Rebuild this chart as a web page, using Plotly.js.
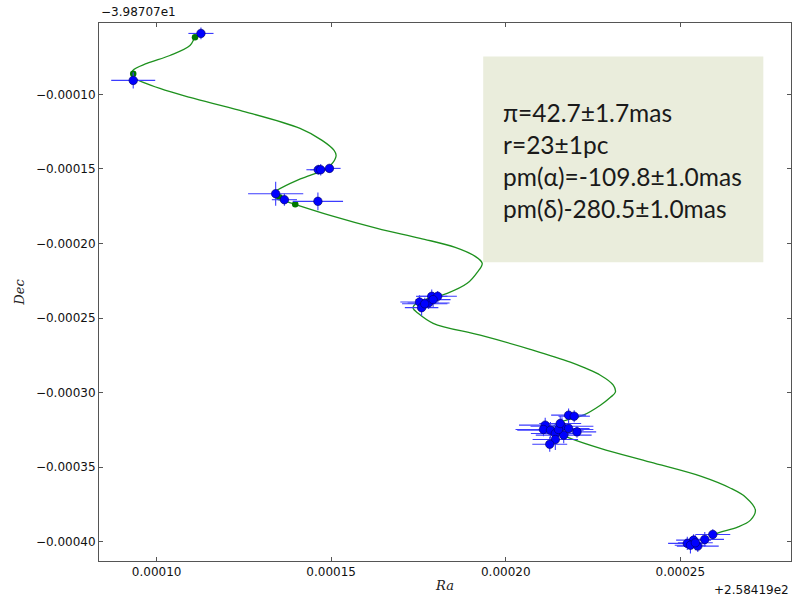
<!DOCTYPE html>
<html>
<head>
<meta charset="utf-8">
<script src="https://cdn.plot.ly/plotly-3.0.1.min.js"></script>
<style>html,body{margin:0;padding:0;background:#fff;}#chart{width:803px;height:597px;}</style>
</head>
<body>
<div id="chart"></div>
<script>
// Observed positions (offset from +2.58419e2 in Ra and -3.98707e1 in Dec)
const obsRa = [0.0001127, 0.0000933,
  0.0001463, 0.0001470, 0.0001495, 0.0001341, 0.0001366, 0.0001462,
  0.0001753, 0.0001759, 0.0001779, 0.0001788, 0.0001805, 0.0001792, 0.0001768,
  0.0002180, 0.0002196, 0.0002161, 0.0002113, 0.0002108, 0.0002128, 0.0002142, 0.0002142,
  0.0002126, 0.0002166, 0.0002180, 0.0002204, 0.0002151, 0.0002156,
  0.0002593, 0.0002570, 0.0002538, 0.0002520, 0.0002529, 0.0002550, 0.0002543];
const obsDec = [-0.0000591, -0.0000906,
  -0.0001505, -0.0001505, -0.0001496, -0.0001666, -0.0001706, -0.0001717,
  -0.0002392, -0.0002430, -0.0002399, -0.0002354, -0.0002354, -0.0002376, -0.0002404,
  -0.0003151, -0.0003158, -0.0003225, -0.0003218, -0.0003247, -0.0003252, -0.0003274, -0.0003314,
  -0.0003346, -0.0003285, -0.0003240, -0.0003263, -0.0003247, -0.0003207,
  -0.0003951, -0.0003984, -0.0003989, -0.0004011, -0.0004023, -0.0004029, -0.0004007];
const errRa = [3.6e-6, 6.3e-6,
  3.4e-6, 3.0e-6, 3.2e-6, 7.9e-6, 3.6e-6, 7.2e-6,
  5.5e-6, 4.8e-6, 6.0e-6, 4.5e-6, 5.5e-6, 5.0e-6, 6.5e-6,
  5.0e-6, 4.5e-6, 9.0e-6, 7.5e-6, 8.0e-6, 9.5e-6, 7.0e-6, 6.5e-6,
  5.0e-6, 8.0e-6, 6.0e-6, 5.5e-6, 10.0e-6, 6.0e-6,
  5.0e-6, 5.5e-6, 5.0e-6, 5.5e-6, 4.5e-6, 6.0e-6, 5.0e-6];
const errDec = [3.9e-6, 5.4e-6,
  3.4e-6, 3.8e-6, 2.8e-6, 8.0e-6, 4.0e-6, 6.0e-6,
  4.5e-6, 5.5e-6, 4.0e-6, 4.5e-6, 3.5e-6, 5.0e-6, 4.0e-6,
  4.5e-6, 4.0e-6, 6.0e-6, 5.0e-6, 4.5e-6, 5.5e-6, 6.0e-6, 7.0e-6,
  5.0e-6, 5.5e-6, 4.5e-6, 4.0e-6, 5.0e-6, 5.0e-6,
  3.5e-6, 5.0e-6, 4.0e-6, 4.5e-6, 5.5e-6, 4.0e-6, 5.0e-6];

// Model positions at epochs (visible ones)
const modelRa = [0.0001110, 0.0000933, 0.0001397, 0.0001352];
const modelDec = [-0.0000616, -0.0000861, -0.0001737, -0.0001690];

// Fitted parallax + proper-motion track
const curveRa = [0.00011213, 0.00011098, 0.00010955, 0.00010381, 0.00009722, 0.00009321, 0.00009292, 0.00009378,
  0.00010095, 0.00010955, 0.00012388, 0.00014108, 0.00014739, 0.00015083, 0.00015141, 0.00015054, 0.00014882,
  0.00014395, 0.00014022, 0.00013449, 0.00013334, 0.00013392, 0.00013535, 0.00013965, 0.00014969, 0.00016316,
  0.00017549, 0.00018552, 0.00019126, 0.00019326, 0.00019183, 0.00018896, 0.00018323, 0.00017635, 0.00017377,
  0.00017348, 0.00017491, 0.00017921, 0.00019269, 0.000207, 0.0002185, 0.0002271, 0.0002308, 0.0002314,
  0.00023, 0.0002271, 0.0002222, 0.0002156, 0.0002136, 0.0002142, 0.0002151, 0.0002185, 0.0002271,
  0.0002414, 0.0002558, 0.0002644, 0.0002687, 0.0002715, 0.0002701, 0.0002664, 0.0002615, 0.0002592];
const curveDec = [-0.0000598, -0.0000618, -0.0000672, -0.0000739, -0.0000792, -0.0000839, -0.0000873, -0.0000893,
  -0.000096, -0.0001020, -0.0001107, -0.0001228, -0.0001308, -0.0001375, -0.0001409, -0.0001456, -0.0001496,
  -0.0001543, -0.0001576, -0.0001643, -0.0001664, -0.000169, -0.0001704, -0.0001737, -0.0001811, -0.0001898,
  -0.0001965, -0.0002025, -0.0002086, -0.0002133, -0.0002193, -0.0002267, -0.0002334, -0.0002381, -0.0002414,
  -0.0002434, -0.0002468, -0.0002535, -0.0002615, -0.0002709, -0.0002796, -0.0002883, -0.000295, -0.0002997,
  -0.0003031, -0.0003084, -0.0003151, -0.0003198, -0.0003232, -0.0003259, -0.0003272, -0.0003306, -0.0003373,
  -0.0003466, -0.000356, -0.0003641, -0.0003701, -0.0003788, -0.0003855, -0.0003902, -0.0003936, -0.0003956];

const fitLines = ["π=42.7±1.7mas", "r=23±1pc", "pm(α)=-109.8±1.0mas", "pm(δ)-280.5±1.0mas"];
const xOffsetLabel = "+2.58419e2";
const yOffsetLabel = "−3.98707e1";

const traces = [
  {x: curveRa, y: curveDec, type: 'scatter', mode: 'lines',
   line: {color: 'rgb(30,145,30)', width: 1.3, shape: 'spline', smoothing: 1}, hoverinfo: 'skip'},
  {x: modelRa, y: modelDec, type: 'scatter', mode: 'markers',
   marker: {color: 'rgb(0,120,0)', size: 6.5}},
  {x: obsRa, y: obsDec, type: 'scatter', mode: 'markers',
   marker: {color: 'rgb(0,0,255)', size: 8.5, line: {color: 'rgb(0,0,90)', width: 0.6}},
   error_x: {type: 'data', array: errRa, visible: true, color: 'rgb(60,60,255)', thickness: 1.1, width: 0},
   error_y: {type: 'data', array: errDec, visible: true, color: 'rgb(60,60,255)', thickness: 1.1, width: 0}}
];

const axisCommon = {
  showgrid: false, zeroline: false, showline: true, linecolor: '#555', linewidth: 1,
  mirror: 'allticks', ticks: 'inside', ticklen: 4, tickcolor: '#555', tickwidth: 1,
  tickfont: {family: 'DejaVu Sans', size: 12, color: '#111'},
  dtick: 0.00005, tick0: 0, tickformat: '.5f', automargin: false
};

const layout = {
  width: 803, height: 597,
  margin: {l: 99, r: 12, t: 23, b: 36},
  paper_bgcolor: '#fff', plot_bgcolor: '#fff',
  showlegend: false,
  xaxis: Object.assign({}, axisCommon, {range: [0.0000835, 0.0002817],
    title: {text: 'Ra', font: {family: 'DejaVu Serif', size: 13, style: 'italic', color: '#222'}, standoff: 2}}),
  yaxis: Object.assign({}, axisCommon, {range: [-0.0004129, -0.0000521],
    title: {text: 'Dec', font: {family: 'DejaVu Serif', size: 13, style: 'italic', color: '#222'}, standoff: 8}}),
  shapes: [
    {type: 'rect', xref: 'paper', yref: 'paper', x0: 0.5552, x1: 0.960, y0: 0.5553, y1: 0.9378,
     fillcolor: '#eaeddc', line: {width: 0}, layer: 'below'}
  ],
  annotations: [
    {xref: 'paper', yref: 'paper', x: 0.5812, y: 0.745, xanchor: 'left', yanchor: 'middle', align: 'left',
     showarrow: false, text: fitLines.join('<br>'), font: {family: 'Lato', size: 24.5, color: '#1a1a1a'}},
    {xref: 'paper', yref: 'paper', x: 0, y: 1, xanchor: 'left', yanchor: 'bottom', yshift: 2,
     showarrow: false, text: yOffsetLabel, font: {family: 'DejaVu Sans', size: 12, color: '#111'}},
    {xref: 'paper', yref: 'paper', x: 1, y: 0, xanchor: 'right', yanchor: 'middle', yshift: -29,
     showarrow: false, text: xOffsetLabel, font: {family: 'DejaVu Sans', size: 12, color: '#111'}}
  ]
};

Plotly.newPlot('chart', traces, layout, {staticPlot: true, displayModeBar: false});
</script>
</body>
</html>
